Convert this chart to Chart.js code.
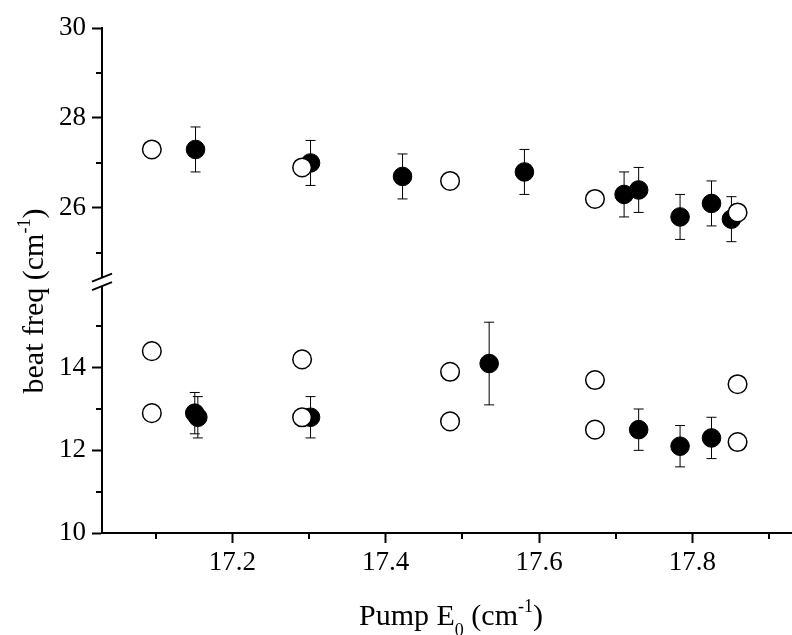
<!DOCTYPE html>
<html>
<head>
<meta charset="utf-8">
<script src="https://cdn.jsdelivr.net/npm/chart.js@4.4.0/dist/chart.umd.min.js"></script>
<style>
  html, body { margin: 0; padding: 0; background: #fff; }
  #wrap { width: 792px; height: 635px; }
</style>
</head>
<body>
<div id="wrap"><canvas id="chart" width="792" height="635"></canvas></div>
<script>
// upper branch (~26-27 cm-1)
const topOpenX = [17.095, 17.291, 17.484, 17.673, 17.859];
const topOpenY = [27.3, 26.9, 26.6, 26.2, 25.9];
const topFilledX = [17.152, 17.302, 17.422, 17.581, 17.711, 17.730, 17.784, 17.825, 17.851];
const topFilledY = [27.3, 27.0, 26.7, 26.8, 26.3, 26.4, 25.8, 26.1, 25.75];
const topFilledErr = [0.5, 0.5, 0.5, 0.5, 0.5, 0.5, 0.5, 0.5, 0.5];

// lower branch (~12-14 cm-1)
const botOpenX = [17.095, 17.095, 17.291, 17.291, 17.484, 17.484, 17.673, 17.673, 17.859, 17.859];
const botOpenY = [14.4, 12.9, 14.2, 12.8, 13.9, 12.7, 13.7, 12.5, 13.6, 12.2];
const botFilledX = [17.151, 17.155, 17.302, 17.535, 17.730, 17.784, 17.825];
const botFilledY = [12.9, 12.8, 12.8, 14.1, 12.5, 12.1, 12.3];
const botFilledErr = [0.5, 0.5, 0.5, 1.0, 0.5, 0.5, 0.5];

// axis ticks
const xMajor = [17.2, 17.4, 17.6, 17.8];
const xMinor = [17.1, 17.3, 17.5, 17.7, 17.9];
const yTopMajor = [26, 28, 30];
const yTopMinor = [25, 27, 29];
const yBotMajor = [10, 12, 14];
const yBotMinor = [11, 13, 15];

const serif = '"Liberation Serif", "Times New Roman", serif';

function pts(xs, ys) {
  return xs.map((x, i) => ({ x: x, y: ys[i] }));
}

// draws text made of plain / sub / sup pieces, centred on x
function drawRich(ctx, parts, x, y, size) {
  const small = Math.round(size * 0.6);
  let total = 0;
  for (const p of parts) {
    ctx.font = (p.sub || p.sup ? small : size) + 'px ' + serif;
    p.w = ctx.measureText(p.t).width;
    total += p.w;
  }
  let cx = x - total / 2;
  ctx.textAlign = 'left';
  ctx.textBaseline = 'alphabetic';
  for (const p of parts) {
    ctx.font = (p.sub || p.sup ? small : size) + 'px ' + serif;
    let dy = 0;
    if (p.sub) dy = size * 0.38;
    if (p.sup) dy = -size * 0.43;
    ctx.fillText(p.t, cx, y + dy);
    cx += p.w;
  }
}

const decorations = {
  id: 'decorations',
  beforeDatasetsDraw(chart) {
    // error bars for the filled points
    const ctx = chart.ctx;
    const xs = chart.scales.x;
    ctx.save();
    ctx.strokeStyle = '#000';
    ctx.lineWidth = 1;
    chart.data.datasets.forEach(ds => {
      if (!ds.err) return;
      const ys = chart.scales[ds.yAxisID];
      ds.data.forEach((p, i) => {
        const px = xs.getPixelForValue(p.x);
        const y1 = ys.getPixelForValue(p.y + ds.err[i]);
        const y2 = ys.getPixelForValue(p.y - ds.err[i]);
        ctx.beginPath();
        ctx.moveTo(px, y1); ctx.lineTo(px, y2);
        ctx.moveTo(px - 5, y1); ctx.lineTo(px + 5, y1);
        ctx.moveTo(px - 5, y2); ctx.lineTo(px + 5, y2);
        ctx.stroke();
      });
    });
    ctx.restore();
  },
  afterDraw(chart) {
    const ctx = chart.ctx;
    const area = chart.chartArea;
    const xs = chart.scales.x;
    const yt = chart.scales.yTop;
    const yb = chart.scales.yBot;
    ctx.save();
    ctx.strokeStyle = '#000';
    ctx.lineWidth = 2;
    ctx.beginPath();
    // minor ticks
    xMinor.forEach(v => {
      const px = Math.round(xs.getPixelForValue(v));
      ctx.moveTo(px, area.bottom); ctx.lineTo(px, area.bottom + 6);
    });
    yTopMinor.forEach(v => {
      const py = Math.round(yt.getPixelForValue(v));
      ctx.moveTo(area.left, py); ctx.lineTo(area.left - 6, py);
    });
    yBotMinor.forEach(v => {
      const py = Math.round(yb.getPixelForValue(v));
      ctx.moveTo(area.left, py); ctx.lineTo(area.left - 6, py);
    });
    ctx.stroke();

    // axis break
    const ax = area.left;
    const by = yt.bottom;
    ctx.fillStyle = '#fff';
    ctx.beginPath();
    ctx.moveTo(ax - 3, by - 4 + 1.2);
    ctx.lineTo(ax + 3, by - 4 - 1.2);
    ctx.lineTo(ax + 3, by + 4.5 - 1.2);
    ctx.lineTo(ax - 3, by + 4.5 + 1.2);
    ctx.closePath();
    ctx.fill();
    ctx.lineWidth = 1.8;
    ctx.beginPath();
    ctx.moveTo(ax - 10, by - 4 + 4); ctx.lineTo(ax + 10, by - 4 - 4);
    ctx.moveTo(ax - 10, by + 4.5 + 4); ctx.lineTo(ax + 10, by + 4.5 - 4);
    ctx.stroke();

    // axis titles
    ctx.fillStyle = '#000';
    drawRich(ctx, [{ t: 'Pump E' }, { t: '0', sub: true }, { t: ' (cm' }, { t: '-1', sup: true }, { t: ')' }], 451, 625, 30);
    ctx.translate(43, 301);
    ctx.rotate(-Math.PI / 2);
    drawRich(ctx, [{ t: 'beat freq (cm' }, { t: '-1', sup: true }, { t: ')' }], 0, 0, 30);
    ctx.restore();
  }
};

const tickFont = { family: serif, size: 27 };

function yAxis(min, max, major, weight, order) {
  return {
    type: 'linear',
    position: 'left',
    stack: 'beat',
    stackWeight: weight,
    weight: order,
    min: min,
    max: max,
    afterBuildTicks: s => { s.ticks = major.map(v => ({ value: v })); },
    afterFit: s => { s.width = 102; },
    border: { display: true, color: '#000', width: 2 },
    grid: { drawOnChartArea: false, drawTicks: true, tickLength: 10, tickWidth: 2, tickColor: '#000' },
    ticks: { color: '#000', padding: 6, font: tickFont }
  };
}

const openStyle = { pointRadius: 9.3, pointHoverRadius: 9.3, pointBackgroundColor: '#fff', pointBorderColor: '#000', pointBorderWidth: 1.5, order: 0 };
const filledStyle = { pointRadius: 9.3, pointHoverRadius: 9.3, pointBackgroundColor: '#000', pointBorderColor: '#000', pointBorderWidth: 1, order: 1 };

new Chart(document.getElementById('chart'), {
  type: 'scatter',
  data: {
    datasets: [
      Object.assign({ label: 'upper open', data: pts(topOpenX, topOpenY), yAxisID: 'yTop' }, openStyle),
      Object.assign({ label: 'lower open', data: pts(botOpenX, botOpenY), yAxisID: 'yBot' }, openStyle),
      Object.assign({ label: 'upper filled', data: pts(topFilledX, topFilledY), err: topFilledErr, yAxisID: 'yTop' }, filledStyle),
      Object.assign({ label: 'lower filled', data: pts(botFilledX, botFilledY), err: botFilledErr, yAxisID: 'yBot' }, filledStyle)
    ]
  },
  options: {
    responsive: false,
    animation: false,
    events: [],
    // point radius would otherwise add padding on the right
    layout: { autoPadding: false, padding: { top: 28, right: 0, bottom: 0, left: 0 } },
    plugins: { legend: { display: false }, tooltip: { enabled: false } },
    scales: {
      x: {
        type: 'linear',
        position: 'bottom',
        min: 17.03,
        max: 17.93,
        afterBuildTicks: s => { s.ticks = xMajor.map(v => ({ value: v })); },
        afterFit: s => { s.height = 102; s.paddingLeft = 0; s.paddingRight = 0; },
        border: { display: true, color: '#000', width: 2 },
        grid: { drawOnChartArea: false, drawTicks: true, tickLength: 10, tickWidth: 2, tickColor: '#000' },
        ticks: { color: '#000', padding: 4, maxRotation: 0, autoSkip: false, font: tickFont }
      },
      yTop: yAxis(24.36, 30, yTopMajor, 253.7, 2),
      yBot: yAxis(10, 16.08, yBotMajor, 251.3, 1)
    }
  },
  plugins: [decorations]
});
</script>
</body>
</html>
